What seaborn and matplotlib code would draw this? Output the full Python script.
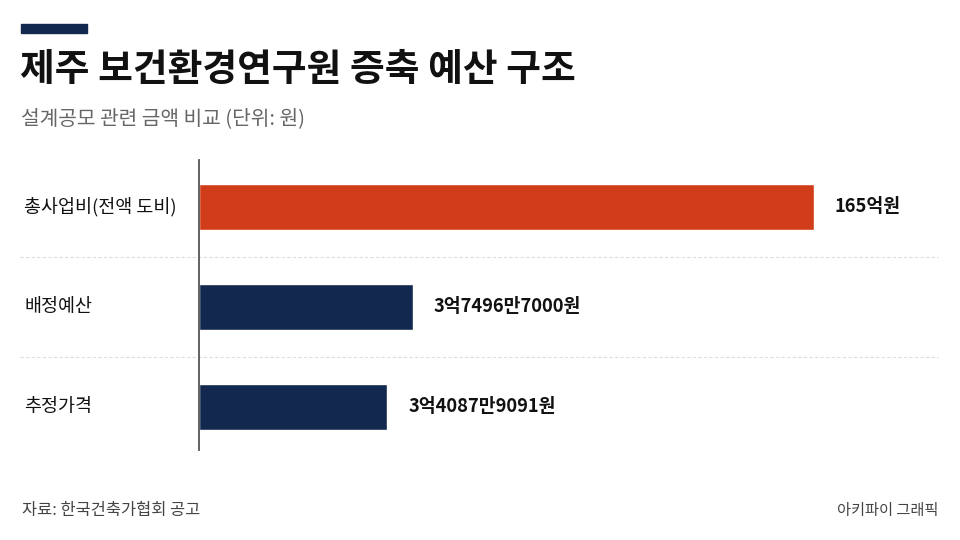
import matplotlib
matplotlib.use("Agg")
import matplotlib.pyplot as plt
import matplotlib.transforms as mtransforms
import seaborn as sns

# Data
categories = ["총사업비(전액 도비)", "배정예산", "추정가격"]
value_labels = ["165억원", "3억7496만7000원", "3억4087만9091원"]
# bar lengths as drawn in the graphic (not proportional to won amounts)
bar_len = [165, 57.4, 50.6]
bar_colors = ["#D13D1A", "#13284F", "#13284F"]

title = "제주 보건환경연구원 증축 예산 구조"
subtitle = "설계공모 관련 금액 비교 (단위: 원)"
source = "자료: 한국건축가협회 공고"
credit = "아키파이 그래픽"

sns.set_style("white")
plt.rcParams["font.family"] = ["Noto Sans CJK KR", "DejaVu Sans"]

fig = plt.figure(figsize=(9.6, 5.4), dpi=100)
fig.patch.set_facecolor("white")

W, H = 960, 540
# axes from x=199 to 938 px, y=160 to 450 px
ax = fig.add_axes([199 / W, 1 - 450 / H, (938 - 199) / W, (450 - 160) / H])

sns.barplot(x=bar_len, y=categories, hue=categories, palette=bar_colors,
            legend=False, width=0.46, orient="h", saturation=1, ax=ax)

px_per_unit = 614.5 / 165
ax.set_xlim(0, (938 - 199) / px_per_unit)
ax.set_ylim(2.43, -0.47)

ax.set_xticks([])
ax.set_yticks([])
ax.set_xlabel("")
ax.set_ylabel("")
for s in ["top", "right", "bottom"]:
    ax.spines[s].set_visible(False)
ax.spines["left"].set_color("#555555")
ax.spines["left"].set_linewidth(1.3)

# dashed separators
for y in [0.5, 1.5]:
    ax.axhline(y, xmin=(20 - 199) / (938 - 199), xmax=1, color="#dddddd",
               lw=0.8, ls=(0, (3, 2)), clip_on=False, zorder=0)

# category labels at left
trans = mtransforms.blended_transform_factory(fig.transFigure, ax.transData)
for i, cat in enumerate(categories):
    ax.text(24 / W, i, cat, transform=trans, ha="left", va="center",
            fontsize=13.3, fontweight="medium", color="#111111")

# value labels
for i, (v, lab) in enumerate(zip(bar_len, value_labels)):
    ax.annotate(lab, xy=(v, i), xytext=(15, 0), textcoords="offset points",
                ha="left", va="center", fontsize=13.2, fontweight="bold",
                color="#111111")

# header
fig.patches.append(plt.Rectangle((21 / W, 1 - 33 / H), 66 / W, 9 / H,
                                 transform=fig.transFigure, color="#13284F"))
fig.text(20 / W, 1 - 70 / H, title, fontsize=27.2, fontweight="black",
         color="#111111", ha="left", va="center")
fig.text(21 / W, 1 - 119 / H, subtitle, fontsize=14.6, color="#666666",
         ha="left", va="center")

# footer
fig.text(22 / W, 1 - 510 / H, source, fontsize=11.8, color="#444444",
         ha="left", va="center")
fig.text(938 / W, 1 - 510 / H, credit, fontsize=11, color="#444444",
         ha="right", va="center")

fig.savefig("out.png", dpi=100, facecolor="white")
